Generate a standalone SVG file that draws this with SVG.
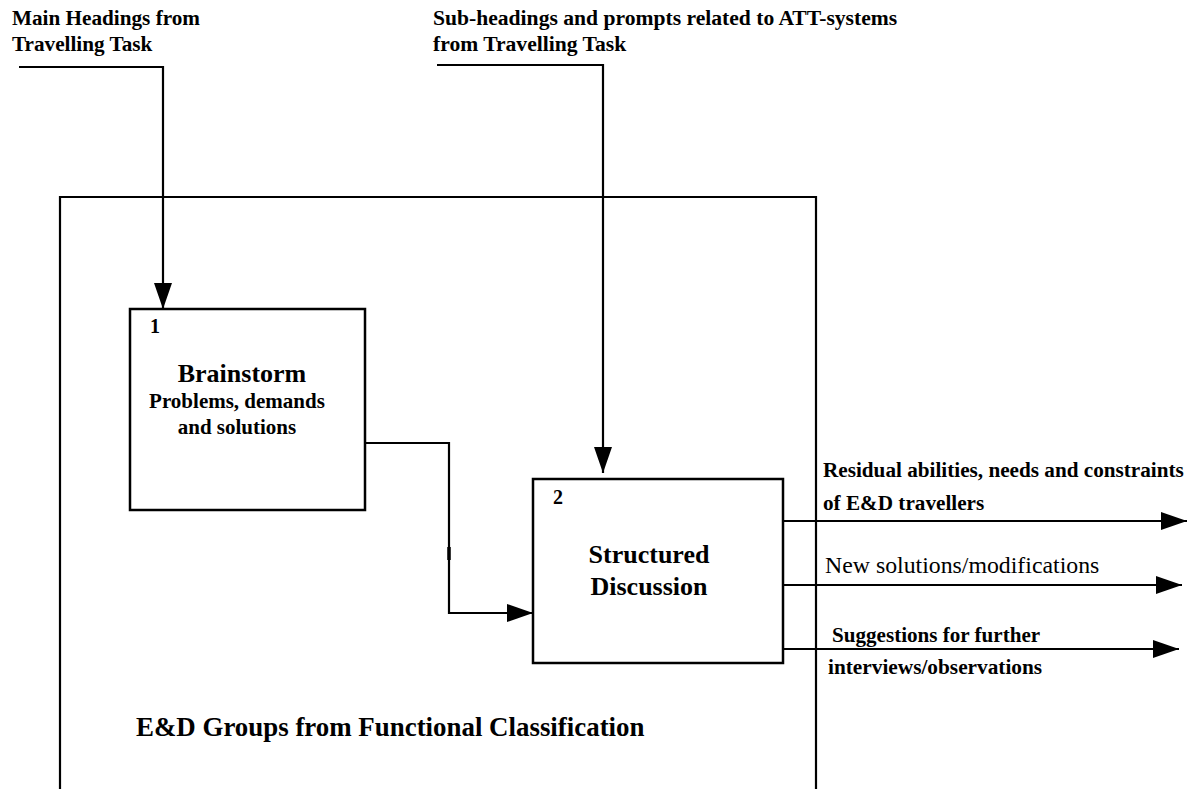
<svg xmlns="http://www.w3.org/2000/svg" width="1196" height="789" viewBox="0 0 1196 789">
<defs>
<style>
text{font-family:"Liberation Serif","Times New Roman",serif;fill:#000}
.b{font-weight:bold}
.box{fill:#fff;stroke:#000;stroke-width:2.5}
.ln{fill:none;stroke:#000;stroke-width:2.2}
</style>
<marker id="ah" markerUnits="userSpaceOnUse" markerWidth="26" markerHeight="18" refX="26" refY="9" orient="auto">
<path d="M0,0 L26,9 L0,18 Z" fill="#000"/>
</marker>
</defs>
<rect width="1196" height="789" fill="#fff"/>
<g id="frame">
<path class="ln" d="M60,789 V197 H816 V789" stroke-width="2.5"/>
<text class="b" x="136" y="736" font-size="26.9">E&amp;D Groups from Functional Classification</text>
</g>
<g id="input-main">
<text class="b" x="12" y="25" font-size="21.2">Main Headings from</text>
<text class="b" x="12" y="51" font-size="21.2">Travelling Task</text>
</g>
<g id="input-sub">
<text class="b" x="433" y="25" font-size="21.6">Sub-headings and prompts related to ATT-systems</text>
<text class="b" x="433" y="51" font-size="21.6">from Travelling Task</text>
</g>
<g id="box1">
<rect class="box" x="130" y="309" width="235" height="201"/>
<text class="b" x="150" y="333" font-size="20">1</text>
<text class="b" x="242" y="382" font-size="26" text-anchor="middle">Brainstorm</text>
<text class="b" x="237" y="408" font-size="21" text-anchor="middle">Problems, demands</text>
<text class="b" x="237" y="434" font-size="21" text-anchor="middle">and solutions</text>
</g>
<g id="box2">
<rect class="box" x="533" y="479" width="250" height="184"/>
<text class="b" x="553" y="504" font-size="20">2</text>
<text class="b" x="649" y="563" font-size="26" text-anchor="middle">Structured</text>
<text class="b" x="649" y="595" font-size="26" text-anchor="middle">Discussion</text>
</g>
<g id="connectors">
<path class="ln" d="M19,67 H163 V309" marker-end="url(#ah)"/>
<path class="ln" d="M437,65 H603 V473" marker-end="url(#ah)"/>
<path class="ln" d="M365,443 H449 V613 H533" marker-end="url(#ah)"/>
<line x1="449" y1="547" x2="449" y2="560" stroke="#000" stroke-width="3.5"/>
<path class="ln" d="M783,521 H1187" marker-end="url(#ah)"/>
<path class="ln" d="M783,585 H1182" marker-end="url(#ah)"/>
<path class="ln" d="M783,649 H1179" marker-end="url(#ah)"/>
</g>
<g id="output-labels">
<text class="b" x="823" y="477" font-size="21.2">Residual abilities, needs and constraints</text>
<text class="b" x="823" y="510" font-size="21.2">of E&amp;D travellers</text>
<text x="825" y="573" font-size="23.8">New solutions/modifications</text>
<text class="b" x="832" y="642" font-size="21.1">Suggestions for further</text>
<text class="b" x="828" y="674" font-size="21.3">interviews/observations</text>
</g>
</svg>
